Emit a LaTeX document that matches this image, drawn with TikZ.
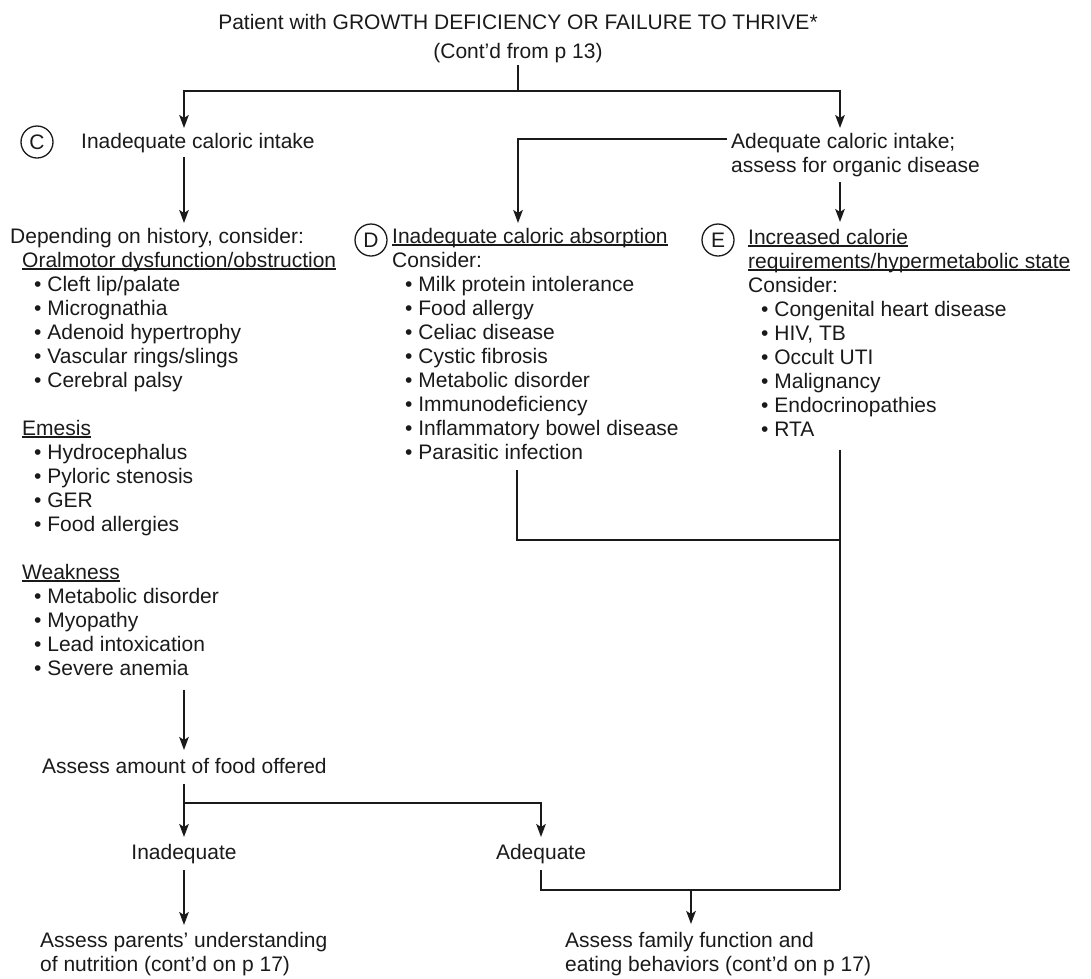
\documentclass[tikz,border=0pt]{standalone}
\usepackage{fontspec}
\setmainfont{Liberation Sans}
\usetikzlibrary{arrows.meta}
\newsavebox\undlbox
% underline set close under the baseline, through the descenders
\newcommand{\undl}[1]{\sbox\undlbox{#1}\rlap{\rule[-2.6pt]{\wd\undlbox}{1.2pt}}\usebox\undlbox}
\definecolor{ink}{HTML}{1A1A1A}
\tikzset{
  txt/.style={font=\fontsize{21}{24}\selectfont, text=ink, inner sep=0pt, align=left, anchor=base west},
  ctxt/.style={font=\fontsize{21}{24}\selectfont, text=ink, inner sep=0pt, anchor=base},
  letter/.style={circle, draw=ink, line width=1.3pt, minimum size=32pt, inner sep=0pt,
                 text=ink, font=\fontsize{21}{24}\selectfont},
  conn/.style={draw=ink, line width=2pt},
  arr/.style={conn, -{Stealth[length=13pt,width=9.5pt,inset=3pt]}},
}
\newcommand{\bul}{\hspace*{13pt}\textbullet\ }
\begin{document}
\begin{tikzpicture}[x=1pt,y=-1pt]
\useasboundingbox (0,0) rectangle (1091,978);

% heading
\node[ctxt] (title) at (518,29) {Patient with GROWTH DEFICIENCY OR FAILURE TO THRIVE*};
\node[ctxt] (contd) at (518,58) {(Cont’d from p 13)};

% first split (multi-line nodes are placed by the baseline of their last line)
\node[letter] (cC) at (37,142) {C};
\node[txt] (intake) at (81,148) {Inadequate caloric intake};
\node[txt] (adeq) at (731,172) {Adequate caloric intake;\\assess for organic disease};

% left column
\node[txt] (hist) at (10,675) {Depending on history, consider:\\
\hspace*{12pt}\undl{Oralmotor dysfunction/obstruction}\\
\hspace*{24pt}\textbullet\ Cleft lip/palate\\
\hspace*{24pt}\textbullet\ Micrognathia\\
\hspace*{24pt}\textbullet\ Adenoid hypertrophy\\
\hspace*{24pt}\textbullet\ Vascular rings/slings\\
\hspace*{24pt}\textbullet\ Cerebral palsy\\[24pt]
\hspace*{12pt}\undl{Emesis}\\
\hspace*{24pt}\textbullet\ Hydrocephalus\\
\hspace*{24pt}\textbullet\ Pyloric stenosis\\
\hspace*{24pt}\textbullet\ GER\\
\hspace*{24pt}\textbullet\ Food allergies\\[24pt]
\hspace*{12pt}\undl{Weakness}\\
\hspace*{24pt}\textbullet\ Metabolic disorder\\
\hspace*{24pt}\textbullet\ Myopathy\\
\hspace*{24pt}\textbullet\ Lead intoxication\\
\hspace*{24pt}\textbullet\ Severe anemia};

% middle column
\node[letter] (cD) at (371,240) {D};
\node[txt] (absorb) at (392,459) {\undl{Inadequate caloric absorption}\\
Consider:\\
\bul Milk protein intolerance\\
\bul Food allergy\\
\bul Celiac disease\\
\bul Cystic fibrosis\\
\bul Metabolic disorder\\
\bul Immunodeficiency\\
\bul Inflammatory bowel disease\\
\bul Parasitic infection};

% right column
\node[letter] (cE) at (718,240) {E};
\node[txt] (hyper) at (748,436) {\undl{Increased calorie}\\
\undl{requirements/hypermetabolic state}\\
Consider:\\
\bul Congenital heart disease\\
\bul HIV, TB\\
\bul Occult UTI\\
\bul Malignancy\\
\bul Endocrinopathies\\
\bul RTA};

% lower part
\node[txt] (amount) at (42,773) {Assess amount of food offered};
\node[ctxt] (inad) at (184,859) {Inadequate};
\node[ctxt] (adq) at (541,859) {Adequate};
\node[txt] (parents) at (40,971) {Assess parents’ understanding\\of nutrition (cont’d on p 17)};
\node[txt] (family) at (565,971) {Assess family function and\\eating behaviors (cont’d on p 17)};

% junction points
\coordinate (top0) at (518,65);
\coordinate (split) at (518,91);
\coordinate (toC) at (184,128);
\coordinate (toA) at (840,128);
\coordinate (c0) at (184,157);
\coordinate (c1) at (184,223);
\coordinate (a0) at (727,139);
\coordinate (toD) at (518,223);
\coordinate (e0) at (840,182);
\coordinate (e1) at (840,222);
\coordinate (d0) at (517,470);
\coordinate (d1) at (517,540);
\coordinate (dE) at (840,540);
\coordinate (eTop) at (840,450);
\coordinate (eBot) at (840,890);
\coordinate (l0) at (184,690);
\coordinate (l1) at (184,750);
\coordinate (m0) at (184,784);
\coordinate (m1) at (184,837);
\coordinate (mb) at (184,803);
\coordinate (mA) at (541,837);
\coordinate (i0) at (184,870);
\coordinate (i1) at (184,925);
\coordinate (q0) at (541,870);
\coordinate (f0) at (691,890);
\coordinate (f1) at (691,924);

% connectors
\draw[conn] (top0) -- (split);
\draw[arr] (split) -| (toC);
\draw[arr] (split) -| (toA);
\draw[arr] (c0) -- (c1);
\draw[arr] (a0) -| (toD);
\draw[arr] (e0) -- (e1);
\draw[conn] (d0) -- (d1) -- (dE);
\draw[conn] (eTop) -- (eBot);
\draw[arr] (l0) -- (l1);
\draw[arr] (m0) -- (m1);
\draw[arr] (mb) -| (mA);
\draw[arr] (i0) -- (i1);
\draw[conn] (q0) |- (eBot);
\draw[arr] (f0) -- (f1);
\end{tikzpicture}
\end{document}
